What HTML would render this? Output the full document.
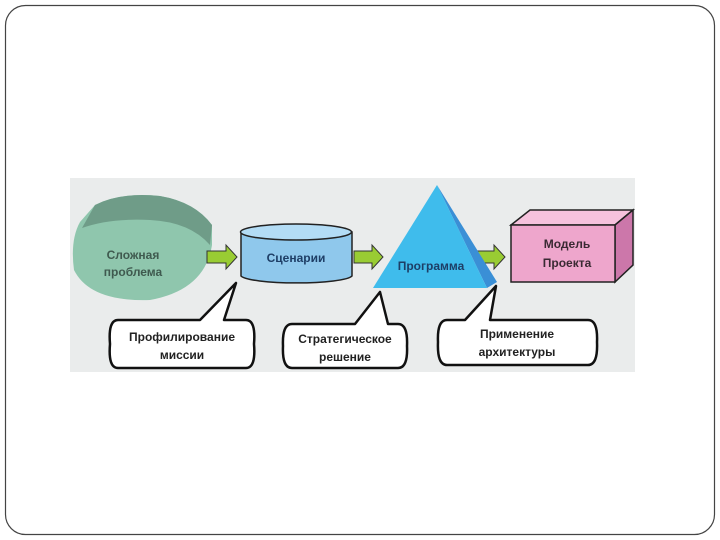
<!DOCTYPE html>
<html><head><meta charset="utf-8"><style>
html,body{margin:0;padding:0;background:#fff;}
svg{display:block}
text{font-family:"Liberation Sans","DejaVu Sans",sans-serif;font-weight:bold;font-size:12px;text-anchor:middle}
</style></head><body>
<svg width="720" height="540" viewBox="0 0 720 540">
<rect x="5.5" y="5.5" width="709" height="529" rx="20" fill="#fff" stroke="#444" stroke-width="1.2"/>
<rect x="70" y="178" width="565" height="194" fill="#eaecec"/>
<!-- green blob -->
<path d="M95 205 Q120 192 160 196 Q195 202 212 225 L212 245 Q205 290 150 300 Q90 302 74 270 Q70 240 80 222 Z" fill="#8fc6ad"/>
<path d="M95 205 Q120 192 160 196 Q195 202 212 225 L210 245 Q190 222 150 220 Q110 218 82 228 Z" fill="#6f9c88"/>
<text x="133" y="259" fill="#3f5a4f">Сложная</text>
<text x="133" y="276" fill="#3f5a4f">проблема</text>
<!-- arrows -->
<g fill="#99cc33" stroke="#333" stroke-width="1">
<path d="M207 251 H226 V245 L237 257 L226 269 V263 H207 Z"/>
<path d="M354 251 H372 V245 L383 257 L372 269 V263 H354 Z"/>
<path d="M477 251 H494 V245 L505 257 L494 269 V263 H477 Z"/>
</g>
<!-- cylinder -->
<path d="M241 232 V276 A56 8 0 0 0 352 276 V232 Z" fill="#8fc8ec" stroke="#222" stroke-width="1.5"/>
<ellipse cx="296" cy="232" rx="55.5" ry="8" fill="#b3dcf5" stroke="#222" stroke-width="1.5"/>
<text x="296" y="262" fill="#1e3e66">Сценарии</text>
<!-- triangle -->
<path d="M437 185 L497 282 L487 288 Z" fill="#3a8fd6"/>
<path d="M437 185 L487 288 L373 288 Z" fill="#3fbcec"/>
<text x="431" y="270" fill="#1e3e66">Программа</text>
<!-- box -->
<path d="M511 225 L530 210 L633 210 L615 225 Z" fill="#f6c2dd" stroke="#222" stroke-width="1.5"/>
<path d="M615 225 L633 210 L633 265 L615 282 Z" fill="#cc77aa" stroke="#222" stroke-width="1.5"/>
<rect x="511" y="225" width="104" height="57" fill="#eea6cc" stroke="#222" stroke-width="1.5"/>
<text x="567" y="248" fill="#3a2a33">Модель</text>
<text x="567" y="267" fill="#3a2a33">Проекта</text>
<!-- callouts -->
<g fill="#fff" stroke="#111" stroke-width="2.5" stroke-linejoin="round">
<path d="M118 320 H200 L236 283 L224 320 H246 Q256 320 254 344 Q256 368 246 368 H118 Q108 368 110 344 Q108 320 118 320 Z"/>
<path d="M292 324 H355 L380 292 L388 324 H398 Q408 324 407 346 Q408 368 398 368 H292 Q282 368 283 346 Q282 324 292 324 Z"/>
<path d="M447 320 H465 L496 286 L490 320 H588 Q598 320 597 342 Q598 365 588 365 H447 Q437 365 438 342 Q437 320 447 320 Z"/>
</g>
<text x="182" y="341" fill="#222">Профилирование</text>
<text x="182" y="359" fill="#222">миссии</text>
<text x="345" y="343" fill="#222">Стратегическое</text>
<text x="345" y="361" fill="#222">решение</text>
<text x="517" y="338" fill="#222">Применение</text>
<text x="517" y="356" fill="#222">архитектуры</text>
</svg>
</body></html>
